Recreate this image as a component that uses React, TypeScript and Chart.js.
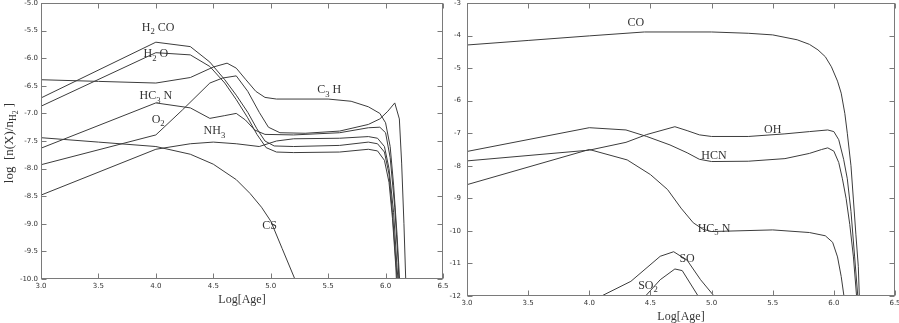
import React, { useEffect, useRef } from "react";
import { Chart, registerables } from "chart.js";
Chart.register(...registerables);

type Pt = [number, number];

// ---------- tick values ----------
const AGE_TICKS = [3.0, 3.5, 4.0, 4.5, 5.0, 5.5, 6.0, 6.5];
const LEFT_Y_TICKS = [-10.0, -9.5, -9.0, -8.5, -8.0, -7.5, -7.0, -6.5, -6.0, -5.5, -5.0];
const RIGHT_Y_TICKS = [-12, -11, -10, -9, -8, -7, -6, -5, -4, -3];

// ---------- left panel series (Log[Age], log abundance) ----------
const h2co: Pt[] = [[3.0,-6.72],[4.0,-5.71],[4.3,-5.79],[4.47,-6.07],[4.6,-6.39],[4.7,-6.67],[4.8,-6.98],[4.88,-7.28],[4.95,-7.5],[5.03,-7.59],[5.2,-7.6],[5.6,-7.58],[5.85,-7.52],[5.93,-7.55],[5.99,-7.7],[6.03,-8.1],[6.06,-8.8],[6.09,-9.7],[6.11,-10.3]];
const h2o: Pt[] = [[3.0,-6.87],[4.0,-5.9],[4.3,-5.94],[4.47,-6.15],[4.6,-6.45],[4.7,-6.75],[4.8,-7.08],[4.88,-7.38],[4.96,-7.62],[5.05,-7.7],[5.2,-7.71],[5.6,-7.7],[5.85,-7.65],[5.93,-7.68],[5.99,-7.85],[6.03,-8.25],[6.06,-8.9],[6.09,-9.8],[6.1,-10.3]];
const c3h: Pt[] = [[3.0,-6.39],[3.5,-6.42],[4.0,-6.45],[4.3,-6.35],[4.5,-6.16],[4.62,-6.09],[4.7,-6.18],[4.78,-6.38],[4.87,-6.6],[4.95,-6.71],[5.05,-6.74],[5.5,-6.74],[5.7,-6.78],[5.85,-6.88],[5.95,-7.0],[6.0,-7.17],[6.04,-7.6],[6.07,-8.3],[6.1,-9.2],[6.13,-10.3]];
const hc3n: Pt[] = [[3.0,-7.63],[4.0,-6.81],[4.3,-6.9],[4.47,-7.09],[4.6,-7.04],[4.7,-7.0],[4.78,-7.12],[4.86,-7.3],[4.95,-7.38],[5.2,-7.39],[5.6,-7.35],[5.85,-7.26],[5.95,-7.25],[6.0,-7.35],[6.04,-7.8],[6.08,-8.7],[6.11,-9.7],[6.12,-10.3]];
const nh3: Pt[] = [[3.0,-8.48],[4.0,-7.65],[4.3,-7.55],[4.5,-7.52],[4.7,-7.55],[4.9,-7.6],[5.05,-7.5],[5.2,-7.46],[5.6,-7.45],[5.85,-7.42],[5.93,-7.45],[5.99,-7.6],[6.03,-8.0],[6.07,-8.8],[6.1,-9.8],[6.12,-10.3]];
const o2: Pt[] = [[3.0,-7.93],[4.0,-7.39],[4.23,-6.94],[4.47,-6.45],[4.58,-6.36],[4.7,-6.32],[4.8,-6.6],[4.9,-6.98],[4.98,-7.25],[5.08,-7.35],[5.3,-7.36],[5.6,-7.32],[5.85,-7.2],[5.95,-7.1],[6.02,-6.96],[6.08,-6.81],[6.12,-7.1],[6.14,-7.9],[6.16,-9.0],[6.18,-10.3]];
const cs: Pt[] = [[3.0,-7.44],[3.5,-7.52],[4.0,-7.6],[4.3,-7.74],[4.5,-7.92],[4.7,-8.2],[4.82,-8.45],[4.92,-8.7],[5.0,-8.95],[5.1,-9.45],[5.22,-10.05]];

// ---------- right panel series ----------
const co: Pt[] = [[3.0,-4.29],[3.5,-4.15],[4.0,-4.01],[4.45,-3.89],[5.0,-3.89],[5.3,-3.93],[5.5,-3.98],[5.7,-4.13],[5.8,-4.27],[5.87,-4.44],[5.93,-4.65],[5.98,-4.96],[6.03,-5.4],[6.06,-5.77],[6.09,-6.4],[6.11,-7.0],[6.14,-8.0],[6.16,-9.05],[6.18,-10.1],[6.2,-11.1],[6.21,-12.2]];
const hcn: Pt[] = [[3.0,-7.56],[4.0,-6.83],[4.3,-6.9],[4.47,-7.1],[4.66,-7.36],[4.8,-7.6],[4.9,-7.8],[5.0,-7.87],[5.3,-7.86],[5.6,-7.78],[5.8,-7.62],[5.9,-7.5],[5.95,-7.45],[6.0,-7.55],[6.04,-7.9],[6.07,-8.4],[6.1,-9.0],[6.13,-9.8],[6.16,-10.8],[6.19,-12.2]];
const oh: Pt[] = [[3.0,-7.85],[4.0,-7.52],[4.3,-7.28],[4.47,-7.04],[4.7,-6.8],[4.8,-6.92],[4.9,-7.05],[5.0,-7.1],[5.3,-7.1],[5.6,-7.02],[5.8,-6.95],[5.95,-6.9],[6.0,-6.95],[6.04,-7.2],[6.08,-7.8],[6.11,-8.4],[6.14,-9.4],[6.17,-10.8],[6.2,-12.2]];
const hc5n: Pt[] = [[3.0,-8.58],[4.0,-7.5],[4.31,-7.82],[4.5,-8.27],[4.64,-8.73],[4.75,-9.3],[4.85,-9.75],[4.93,-9.95],[5.0,-10.02],[5.5,-9.97],[5.8,-10.05],[5.93,-10.15],[5.99,-10.35],[6.03,-10.8],[6.06,-11.4],[6.09,-12.2]];
const so: Pt[] = [[4.1,-12.0],[4.34,-11.55],[4.58,-10.78],[4.69,-10.64],[4.8,-10.9],[4.91,-11.5],[5.02,-12.0]];
const so2: Pt[] = [[4.46,-12.0],[4.58,-11.5],[4.7,-11.17],[4.76,-11.22],[4.89,-12.0]];

// ---------- curve labels: [text, level] parts, anchored in data units ----------
type Part = [string, number];
type Lbl = { parts: Part[]; x: number; y: number };
const LEFT_LABELS: Lbl[] = [
  { parts: [["H", 0], ["2", 1], [" CO", 0]], x: 4.02, y: -5.43 },
  { parts: [["H", 0], ["2", 1], [" O", 0]], x: 4.0, y: -5.91 },
  { parts: [["HC", 0], ["3", 1], [" N", 0]], x: 4.0, y: -6.67 },
  { parts: [["O", 0], ["2", 1]], x: 4.02, y: -7.1 },
  { parts: [["NH", 0], ["3", 1]], x: 4.51, y: -7.3 },
  { parts: [["C", 0], ["3", 1], [" H", 0]], x: 5.51, y: -6.56 },
  { parts: [["CS", 0]], x: 4.99, y: -9.02 },
];
const RIGHT_LABELS: Lbl[] = [
  { parts: [["CO", 0]], x: 4.38, y: -3.58 },
  { parts: [["OH", 0]], x: 5.5, y: -6.87 },
  { parts: [["HCN", 0]], x: 5.02, y: -7.66 },
  { parts: [["HC", 0], ["5", 1], [" N", 0]], x: 5.02, y: -9.9 },
  { parts: [["SO", 0]], x: 4.8, y: -10.82 },
  { parts: [["SO", 0], ["2", 1]], x: 4.48, y: -11.65 },
];
const X_TITLE = "Log[Age]";
const Y_TITLE: Part[] = [["log  [n(X)/n", 0], ["H", 1], ["2", 2], [" ]", 0]];

const LINE = "#3c3c3c";
const FRAME = "#7a7a7a";
const TEXT = "#333";
const SERIF = "'Liberation Serif', 'DejaVu Serif', serif";
const TICKFONT = "'DejaVu Sans', sans-serif";

function drawRich(ctx: CanvasRenderingContext2D, parts: Part[], x: number, y: number, size: number) {
  const sc = [1, 0.72, 0.6];
  const off = [0, 0.28, 0.45];
  let w = 0;
  for (const [t, l] of parts) {
    ctx.font = `${size * sc[l]}px ${SERIF}`;
    w += ctx.measureText(t).width;
  }
  let cx = x - w / 2;
  const base = y + size * 0.35;
  ctx.textAlign = "left";
  ctx.textBaseline = "alphabetic";
  for (const [t, l] of parts) {
    ctx.font = `${size * sc[l]}px ${SERIF}`;
    ctx.fillText(t, cx, base + size * off[l]);
    cx += ctx.measureText(t).width;
  }
}

function makeConfig(
  series: Pt[][],
  yMin: number,
  yMax: number,
  yTicks: number[],
  yFmt: (v: number) => string,
  pad: { left: number; right: number; top: number },
  yWidth: number,
  xHeight: number,
  yPad: number,
  labels: Lbl[],
  yTitle: boolean
): any {
  const decor = {
    id: "decor",
    afterDatasetsDraw(chart: any) {
      const { ctx, chartArea: a, scales } = chart;
      const xs = scales.x, ys = scales.y;
      ctx.save();
      ctx.strokeStyle = FRAME;
      ctx.lineWidth = 1;
      const L = Math.round(a.left) + 0.5, R = Math.round(a.right) - 0.5;
      const T = Math.round(a.top) + 0.5, B = Math.round(a.bottom) - 0.5;
      ctx.strokeRect(L, T, R - L, B - T);
      ctx.beginPath();
      for (const v of AGE_TICKS) {
        const px = Math.round(xs.getPixelForValue(v)) + 0.5;
        ctx.moveTo(px, B); ctx.lineTo(px, B - 5);
        ctx.moveTo(px, T); ctx.lineTo(px, T + 5);
      }
      for (const v of yTicks) {
        const py = Math.round(ys.getPixelForValue(v)) + 0.5;
        ctx.moveTo(L, py); ctx.lineTo(L + 5, py);
        ctx.moveTo(R, py); ctx.lineTo(R - 5, py);
      }
      ctx.stroke();
      ctx.fillStyle = TEXT;
      for (const lb of labels) {
        drawRich(ctx, lb.parts, xs.getPixelForValue(lb.x), ys.getPixelForValue(lb.y), 12);
      }
      drawRich(ctx, [[X_TITLE, 0]], (a.left + a.right) / 2, a.bottom + 20, 12);
      if (yTitle) {
        ctx.save();
        ctx.translate(8, (a.top + a.bottom) / 2 + 2);
        ctx.rotate(-Math.PI / 2);
        drawRich(ctx, Y_TITLE, 0, 0, 13);
        ctx.restore();
      }
      ctx.restore();
    },
  };
  return {
    type: "line",
    data: {
      datasets: series.map((s) => ({
        data: s.map(([x, y]) => ({ x, y })),
        borderColor: LINE,
        borderWidth: 1,
        pointRadius: 0,
        tension: 0,
        fill: false,
      })),
    },
    options: {
      responsive: false,
      animation: false,
      devicePixelRatio: 1,
      layout: { padding: { left: pad.left, right: pad.right, top: pad.top, bottom: 0 } },
      plugins: { legend: { display: false }, tooltip: { enabled: false } },
      scales: {
        x: {
          type: "linear",
          min: 3,
          max: 6.5,
          grid: { display: false, drawTicks: false },
          border: { display: false },
          afterBuildTicks: (s: any) => { s.ticks = AGE_TICKS.map((v) => ({ value: v })); },
          afterFit: (s: any) => { s.height = xHeight; s.paddingLeft = 0; s.paddingRight = 0; },
          ticks: {
            autoSkip: false, maxRotation: 0, padding: 3, color: TEXT,
            font: { family: TICKFONT, size: 7 },
            callback: (v: any) => Number(v).toFixed(1),
          },
        },
        y: {
          type: "linear",
          min: yMin,
          max: yMax,
          grid: { display: false, drawTicks: false },
          border: { display: false },
          afterBuildTicks: (s: any) => { s.ticks = yTicks.map((v) => ({ value: v })); },
          afterFit: (s: any) => { s.width = yWidth; s.paddingTop = 0; s.paddingBottom = 0; },
          ticks: {
            autoSkip: false, padding: yPad, color: TEXT,
            font: { family: TICKFONT, size: 7 },
            callback: (v: any) => yFmt(Number(v)),
          },
        },
      },
    },
    plugins: [decor],
  };
}

export default function App() {
  const leftRef = useRef<HTMLCanvasElement>(null);
  const rightRef = useRef<HTMLCanvasElement>(null);
  useEffect(() => {
    const c1 = new Chart(
      leftRef.current!,
      makeConfig([h2co, h2o, c3h, hc3n, nh3, o2, cs], -10, -5, LEFT_Y_TICKS, (v) => v.toFixed(1),
        { left: 0, right: 899 - 443, top: 3 }, 41, 44, 3, LEFT_LABELS, true)
    );
    const c2 = new Chart(
      rightRef.current!,
      makeConfig([co, hcn, oh, hc5n, so, so2], -12, -3, RIGHT_Y_TICKS, (v) => String(Math.round(v)),
        { left: 440, right: 4, top: 3 }, 27, 27, 6, RIGHT_LABELS, false)
    );
    return () => { c1.destroy(); c2.destroy(); };
  }, []);
  return (
    <div style={{ position: "fixed", left: 0, top: 0, width: 899, height: 323, background: "#fff" }}>
      <canvas ref={leftRef} width={899} height={323} style={{ position: "absolute", left: 0, top: 0, width: 899, height: 323 }} />
      <canvas ref={rightRef} width={899} height={323} style={{ position: "absolute", left: 0, top: 0, width: 899, height: 323 }} />
    </div>
  );
}
